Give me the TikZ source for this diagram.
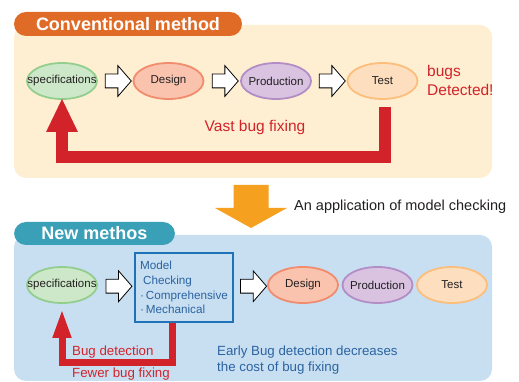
\documentclass[tikz,border=0pt]{standalone}
\usepackage{fontspec}
\setmainfont{Liberation Sans}
\usetikzlibrary{shapes.geometric,shapes.arrows,arrows.meta,calc}
\definecolor{panelA}{HTML}{FEEFD2}
\definecolor{panelB}{HTML}{C8DFF2}
\definecolor{tabOrange}{HTML}{E06B27}
\definecolor{tabTeal}{HTML}{3AA0B8}
\definecolor{bugRed}{HTML}{D2232A}
\definecolor{bigOrange}{HTML}{F5A01F}
\definecolor{txtDark}{HTML}{231F20}
\definecolor{blueTxt}{HTML}{2B63A0}
\definecolor{blueBox}{HTML}{1F71B8}
\definecolor{specFill}{HTML}{CDE8C9}
\definecolor{specDraw}{HTML}{94CE8F}
\definecolor{desFill}{HTML}{F9C3AE}
\definecolor{desDraw}{HTML}{F18C6E}
\definecolor{prodFill}{HTML}{D9C3E1}
\definecolor{prodDraw}{HTML}{B38DC6}
\definecolor{testFill}{HTML}{FDDEBE}
\definecolor{testDraw}{HTML}{FBBE7C}
\newcommand{\ovaltext}[1]{\makebox[0pt]{\raisebox{-1.5pt}{#1}}}
\begin{document}
\begin{tikzpicture}[x=1pt,y=1pt,
  oval/.style={ellipse, line width=1.8pt, minimum width=70pt, minimum height=36pt,
    inner sep=0pt, font=\fontsize{11.5}{13}\selectfont, text=txtDark},
  specoval/.style={oval, draw=specDraw, fill=specFill},
  desoval/.style={oval, draw=desDraw, fill=desFill},
  prodoval/.style={oval, draw=prodDraw, fill=prodFill},
  testoval/.style={oval, draw=testDraw, fill=testFill},
  hollow/.style={single arrow, draw=black, fill=white, line width=0.8pt,
    minimum height=26pt, minimum width=30pt, inner xsep=0pt, inner ysep=6.5pt,
    single arrow head extend=8.5pt, single arrow tip angle=98},
  tabbox/.style={rounded corners=12pt, text=white, inner sep=0pt,
    font=\fontsize{18}{20}\bfseries\selectfont},
  redlbl/.style={text=bugRed, inner sep=0pt},
  redarrow/.style={draw=bugRed, line join=miter}
]
\useasboundingbox (0,0) rectangle (519,382);

% ---- top panel ----
\fill[panelA, rounded corners=12pt] (14,204) rectangle (492,357);
\node[tabbox, fill=tabOrange, minimum width=228pt, minimum height=24pt] (tabA) at (128,358) {Conventional method};

\node[specoval] (spec) at (62,301) {\ovaltext{specifications}};
\node[desoval] (design) at (168.5,301) {\ovaltext{Design}};
\node[prodoval] (prod) at (276,301) {\ovaltext{Production}};
\node[testoval] (test) at (382.5,301) {\ovaltext{Test}};

\node[hollow] (ha1) at ($(spec.east)!0.5!(design.west)$) {};
\node[hollow] (ha2) at ($(design.east)!0.5!(prod.west)$) {};
\node[hollow] (ha3) at ($(prod.east)!0.5!(test.west)$) {};

\node[redlbl, align=left, anchor=west, font=\fontsize{15.5}{19}\selectfont] (bugs) at (427,301.5) {bugs\\Detected!};
\node[redlbl, font=\fontsize{15.5}{18}\selectfont] (vast) at (255,255) {Vast bug fixing};

\draw[redarrow, line width=12pt, -{Triangle[width=29pt,length=34pt]}]
  ([xshift=2.5pt,yshift=-7pt]test.south) -- ++(0,-50) -| ([yshift=2pt]spec.south);

% ---- big orange arrow ----
\fill[bigOrange] (233.5,197) -- (268.5,197) -- (268.5,174) -- (287,174) -- (251,154)
  -- (215,174) -- (233.5,174) -- cycle;
\node[anchor=west, inner sep=0pt, text=txtDark, font=\fontsize{14.5}{16}\selectfont] (appl) at (294,175) {An application of model checking};

% ---- bottom panel ----
\fill[panelB, rounded corners=12pt] (14,1) rectangle (492,147);
\node[tabbox, fill=tabTeal, minimum width=161pt, minimum height=23pt] (tabB) at (94.5,148.5) {New methos};

\node[specoval] (spec2) at (62,97) {\ovaltext{specifications}};
\node[draw=blueBox, line width=2pt, fill=panelB, minimum width=98pt, minimum height=69pt,
  inner sep=0pt, align=left, text=blueTxt, font=\fontsize{11.7}{14.7}\selectfont] (mc) at (184,94.5)
  {Model\\\hspace{3pt}Checking\\·\,Comprehensive\\·\,Mechanical};
\node[desoval] (design2) at (303,97) {\ovaltext{Design}};
\node[prodoval] (prod2) at (377.5,97) {\ovaltext{Production}};
\node[testoval] (test2) at (452,97) {\ovaltext{Test}};

\node[hollow] (hb1) at ($(spec2.east)!0.5!(mc.west)$) {};
\node[hollow] (hb2) at ($(mc.east)!0.5!(design2.west)$) {};

\draw[redarrow, line width=7pt, -{Triangle[width=17pt,length=29pt]}]
  ([xshift=-11.5pt]mc.south) -- ++(0,-40) -| ([yshift=-5pt]spec2.south);

\node[redlbl, anchor=west, font=\fontsize{13.3}{16}\selectfont] (bdet) at (72,30) {Bug detection};
\node[redlbl, anchor=west, font=\fontsize{13.3}{16}\selectfont] (fewer) at (72,8) {Fewer bug fixing};
\node[anchor=west, inner sep=0pt, align=left, text=blueTxt, font=\fontsize{13.3}{16}\selectfont] (early) at (217,22)
  {Early Bug detection decreases\\the cost of bug fixing};
\end{tikzpicture}
\end{document}
